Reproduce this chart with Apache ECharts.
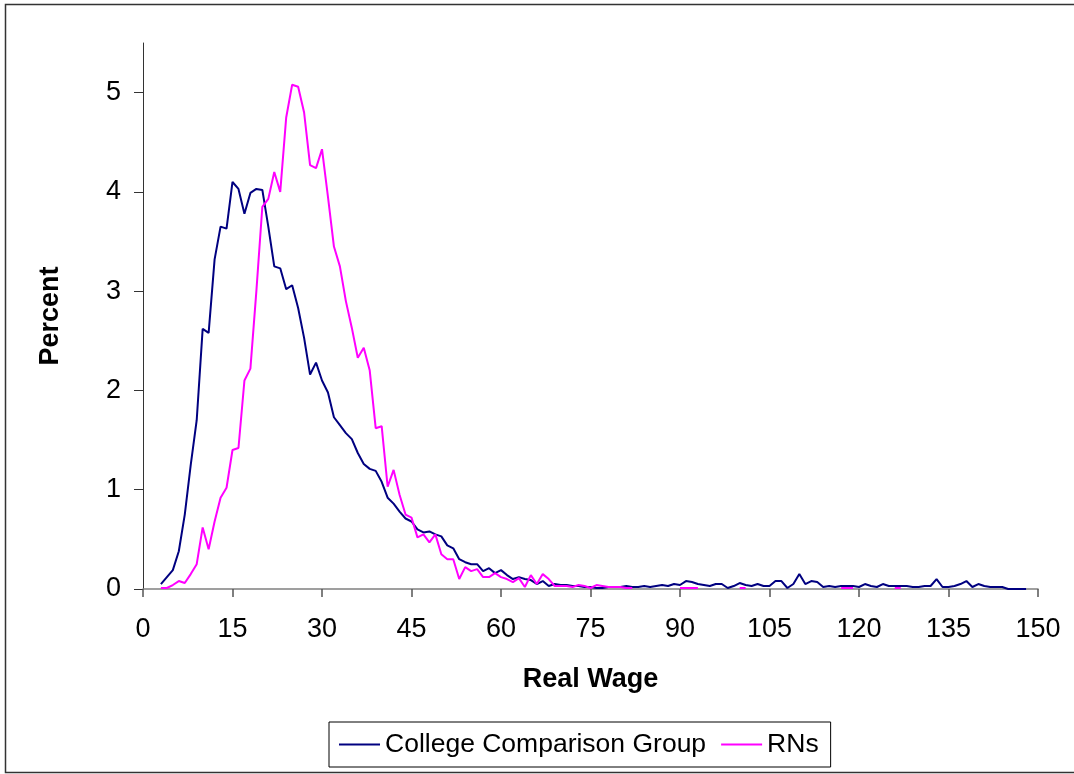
<!DOCTYPE html>
<html>
<head>
<meta charset="utf-8">
<script src="https://cdn.jsdelivr.net/npm/echarts@6/dist/echarts.min.js"></script>
<style>
html,body{margin:0;padding:0;background:#fff;}
#chart{width:1074px;height:774px;}
</style>
</head>
<body>
<div id="chart"></div>
<script>
// Real wage values (x) from 3 to 148
const wages = [];
for (let w = 3; w <= 148; w++) wages.push(w);

const collegeValues = [
  0.05,0.12,0.19,0.38,0.75,1.25,1.70,2.62,2.58,3.32, // 3-12
  3.65,3.63,4.10,4.03,3.78,3.99,4.03,4.02,3.65,3.25, // 13-22
  3.23,3.02,3.06,2.83,2.53,2.16,2.28,2.10,1.98,1.73, // 23-32
  1.65,1.57,1.51,1.37,1.26,1.21,1.19,1.08,0.92,0.86, // 33-42
  0.78,0.71,0.68,0.60,0.57,0.58,0.55,0.53,0.44,0.41, // 43-52
  0.30,0.27,0.25,0.25,0.18,0.21,0.16,0.19,0.14,0.10, // 53-62
  0.12,0.10,0.09,0.05,0.08,0.03,0.05,0.04,0.04,0.03, // 63-72
  0.03,0.02,0.02,0.01,0.01,0.02,0.02,0.02,0.03,0.02, // 73-82
  0.02,0.03,0.02,0.03,0.04,0.03,0.05,0.04,0.08,0.07, // 83-92
  0.05,0.04,0.03,0.05,0.05,0.01,0.03,0.06,0.04,0.03, // 93-102
  0.05,0.03,0.03,0.08,0.08,0.01,0.05,0.15,0.05,0.08, // 103-112
  0.07,0.02,0.03,0.02,0.03,0.03,0.03,0.02,0.05,0.03, // 113-122
  0.02,0.05,0.03,0.03,0.03,0.03,0.02,0.02,0.03,0.03, // 123-132
  0.10,0.02,0.02,0.03,0.05,0.08,0.02,0.05,0.03,0.02, // 133-142
  0.02,0.02,0.00,0.00,0.00,0.00                      // 143-148
];

const rnValues = [
  0.01,0.01,0.04,0.08,0.06,0.15,0.25,0.62,0.40,0.68, // 3-12
  0.92,1.02,1.40,1.42,2.10,2.22,3.00,3.85,3.93,4.20, // 13-22
  4.00,4.75,5.08,5.06,4.80,4.27,4.24,4.43,3.95,3.45, // 23-32
  3.25,2.90,2.63,2.33,2.43,2.20,1.62,1.64,1.03,1.20, // 33-42
  0.95,0.75,0.72,0.52,0.55,0.47,0.55,0.35,0.30,0.30, // 43-52
  0.10,0.22,0.18,0.20,0.12,0.12,0.16,0.12,0.10,0.07, // 53-62
  0.11,0.02,0.14,0.05,0.15,0.10,0.03,0.03,0.03,0.02, // 63-72
  0.04,0.03,0.01,0.04,0.03,0.02,0.02,0.02,0.01,0.01, // 73-82
  null,null,null,null,null,null,null,0.01,0.01,0.01, // 83-92
  0.01,null,null,null,null,null,null,0.01,0.01,null, // 93-102
  null,null,null,null,null,null,null,null,null,null, // 103-112
  null,null,null,null,0.01,0.01,0.01,null,null,null, // 113-122
  null,null,null,0.01,0.01                           // 123-127
];

const xTicks = [0,15,30,45,60,75,90,105,120,135,150];
const yTicks = [0,1,2,3,4,5];

const collegeData = wages.map((w,i) => [w, collegeValues[i] === undefined ? null : collegeValues[i]]);
const rnData = wages.map((w,i) => [w, rnValues[i] === undefined ? null : rnValues[i]]);

const chart = echarts.init(document.getElementById('chart'), null, {renderer:'canvas'});
const font = 'Liberation Sans, Arial, Helvetica, sans-serif';
chart.setOption({
  backgroundColor:'#fff',
  animation:false,
  textStyle:{fontFamily:font},
  graphic:[{
    type:'rect', shape:{x:5.5,y:4.5,width:1100,height:768},
    style:{fill:'none',stroke:'#333',lineWidth:1.5}, silent:true, z:-1
  }],
  grid:{left:143,right:36,top:43,bottom:185,containLabel:false},
  legend:{
    left:329, top:722,
    icon:'rect',
    itemWidth:41, itemHeight:2, itemGap:15,
    padding:[9,12,9,10],
    borderColor:'#000', borderWidth:1,
    textStyle:{fontSize:26.5,color:'#000',fontFamily:font},
    data:['College Comparison Group','RNs']
  },
  xAxis:{
    type:'value', min:0, max:150, interval:15,
    name:'Real Wage', nameLocation:'middle', nameGap:77,
    nameTextStyle:{fontSize:27,fontWeight:'bold',color:'#000',fontFamily:font},
    axisLine:{show:true,onZero:false,lineStyle:{color:'#808080',width:1.5}},
    axisTick:{show:true,inside:false,length:8,lineStyle:{color:'#555',width:1.5}},
    axisLabel:{fontSize:27,color:'#000',margin:27,fontFamily:font},
    splitLine:{show:false}
  },
  yAxis:{
    type:'value', min:0, max:5.5,
    name:'Percent', nameLocation:'middle', nameGap:79, nameRotate:90,
    nameTextStyle:{fontSize:27,fontWeight:'bold',color:'#000',fontFamily:font},
    axisLine:{show:true,lineStyle:{color:'#333',width:1}},
    axisTick:{show:true,inside:false,length:9,lineStyle:{color:'#333',width:1},customValues:yTicks},
    axisLabel:{fontSize:27,color:'#000',margin:22,fontFamily:font,customValues:yTicks},
    splitLine:{show:false}
  },
  series:[
    {name:'College Comparison Group', type:'line', data:collegeData, symbol:'none',
     showSymbol:false, connectNulls:false, lineStyle:{color:'#000080',width:2}, itemStyle:{color:'#000080'}, z:2},
    {name:'RNs', type:'line', data:rnData, symbol:'none',
     showSymbol:false, connectNulls:false, lineStyle:{color:'#ff00ff',width:2}, itemStyle:{color:'#ff00ff'}, z:3}
  ]
});
</script>
</body>
</html>
